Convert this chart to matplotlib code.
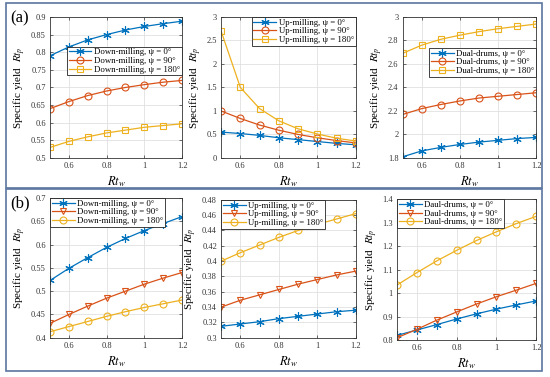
import numpy as np
import matplotlib
matplotlib.use("Agg")
import matplotlib.pyplot as plt
from matplotlib.patches import Rectangle

plt.rcParams['font.family'] = ['Liberation Serif', 'DejaVu Serif']
plt.rcParams['mathtext.fontset'] = 'stix'

rtw = [0.5, 0.6, 0.7, 0.8, 0.9, 1.0, 1.1, 1.2]

# (a)
down_a = [[0.79, 0.815, 0.835, 0.85, 0.863, 0.873, 0.881, 0.888],
          [0.64, 0.66, 0.677, 0.69, 0.70, 0.708, 0.715, 0.72],
          [0.53, 0.547, 0.56, 0.571, 0.579, 0.587, 0.592, 0.597]]
up_a = [[0.55, 0.52, 0.48, 0.43, 0.39, 0.35, 0.31, 0.28],
        [1.0, 0.84, 0.70, 0.59, 0.50, 0.43, 0.37, 0.32],
        [2.7, 1.5, 1.05, 0.79, 0.62, 0.51, 0.42, 0.36]]
dual_a = [[1.81, 1.86, 1.89, 1.915, 1.935, 1.95, 1.965, 1.975],
          [2.17, 2.22, 2.255, 2.285, 2.31, 2.325, 2.34, 2.355],
          [2.69, 2.76, 2.81, 2.845, 2.875, 2.90, 2.92, 2.94]]
# (b)
down_b = [[0.523, 0.549, 0.572, 0.594, 0.613, 0.630, 0.645, 0.660],
          [0.431, 0.45, 0.468, 0.485, 0.50, 0.515, 0.528, 0.54],
          [0.413, 0.424, 0.435, 0.446, 0.456, 0.465, 0.473, 0.481]]
up_b = [[0.315, 0.318, 0.321, 0.325, 0.328, 0.331, 0.334, 0.336],
        [0.34, 0.349, 0.356, 0.363, 0.370, 0.376, 0.382, 0.387],
        [0.40, 0.411, 0.421, 0.431, 0.440, 0.448, 0.455, 0.462]]
dual_b = [[0.82, 0.843, 0.866, 0.89, 0.912, 0.932, 0.95, 0.967],
          [0.81, 0.846, 0.885, 0.92, 0.954, 0.985, 1.013, 1.042],
          [1.035, 1.088, 1.138, 1.183, 1.225, 1.262, 1.297, 1.328]]

psis = ["0°", "90°", "180°"]
cols = ["#0072BD", "#D95319", "#EDB120"]
star = (6, 2, 0)  # matlab style asterisk

panels = [
    # data, name, markers, ylim, yticks, pos, legend loc, anchor
    (down_a, "Down-milling", [star, "o", "s"], (0.5, 0.9), np.arange(0.5, 0.91, 0.05),
     [0.091, 0.581, 0.240, 0.374], "upper right", (1.0, 0.79)),
    (up_a, "Up-milling", [star, "o", "s"], (0, 3), np.arange(0, 3.01, 0.5),
     [0.402, 0.581, 0.245, 0.374], "upper right", (1.0, 1.0)),
    (dual_a, "Dual-drums", [star, "o", "s"], (1.8, 3), np.arange(1.8, 3.01, 0.2),
     [0.732, 0.581, 0.243, 0.374], "upper right", (1.0, 0.78)),
    (down_b, "Down-milling", [star, "v", "o"], (0.4, 0.7), np.arange(0.4, 0.71, 0.05),
     [0.091, 0.104, 0.240, 0.371], "upper left", (0.0, 1.0)),
    (up_b, "Up-milling", [star, "v", "o"], (0.3, 0.48), np.arange(0.3, 0.481, 0.02),
     [0.402, 0.104, 0.245, 0.366], "upper left", (0.0, 1.0)),
    (dual_b, "Daul-drums", [star, "v", "o"], (0.8, 1.4), np.arange(0.8, 1.41, 0.1),
     [0.722, 0.098, 0.253, 0.373], "upper left", (0.0, 1.0)),
]

fig = plt.figure(figsize=(5.5, 3.77), dpi=100)

# blue frames around (a) and (b)
for y0, h in [(0.502, 0.49), (0.016, 0.483)]:
    fig.patches.append(Rectangle((0.011, y0), 0.975, h, transform=fig.transFigure,
                                 fill=False, edgecolor="#5b76a0", lw=1.2))

for data, name, mks, ylim, yt, pos, loc, anchor in panels:
    ax = fig.add_axes(pos)
    for i in range(3):
        ax.plot(rtw, data[i], color=cols[i], marker=mks[i], mfc="none",
                ms=5 if i > 0 else 6, lw=0.9, mew=0.8,
                label=name + ", ψ = " + psis[i])
    ax.set_xlim(0.5, 1.2)
    ax.set_ylim(*ylim)
    ax.set_xticks([0.6, 0.8, 1.0, 1.2])
    ax.set_xticklabels(["0.6", "0.8", "1", "1.2"])
    ax.set_yticks(yt)
    ax.set_yticklabels(["%g" % round(v, 3) for v in yt])
    ax.grid(color="#e0e0e0", lw=0.6)
    ax.set_axisbelow(True)
    ax.tick_params(labelsize=6, colors="#333333", length=2, width=0.5, direction="in",
                   top=True, right=True, pad=3)
    for s in ax.spines.values():
        s.set_linewidth(0.6)
        s.set_color("#333333")
    ax.set_xlabel("$Rt_w$", fontsize=9, labelpad=3)
    ax.set_ylabel("Specific yield  $Rt_p$", fontsize=8, labelpad=2)
    leg = ax.legend(loc=loc, bbox_to_anchor=anchor, fontsize=6.3, fancybox=False,
                    edgecolor="#222222", framealpha=1, borderpad=0.2,
                    labelspacing=0.05, handlelength=2.6, handletextpad=0.3,
                    borderaxespad=0)
    leg.get_frame().set_linewidth(0.6)

fig.text(0.018, 0.94, "(a)", fontsize=12)
fig.text(0.018, 0.45, "(b)", fontsize=12)

plt.savefig("out.png", dpi=100)
